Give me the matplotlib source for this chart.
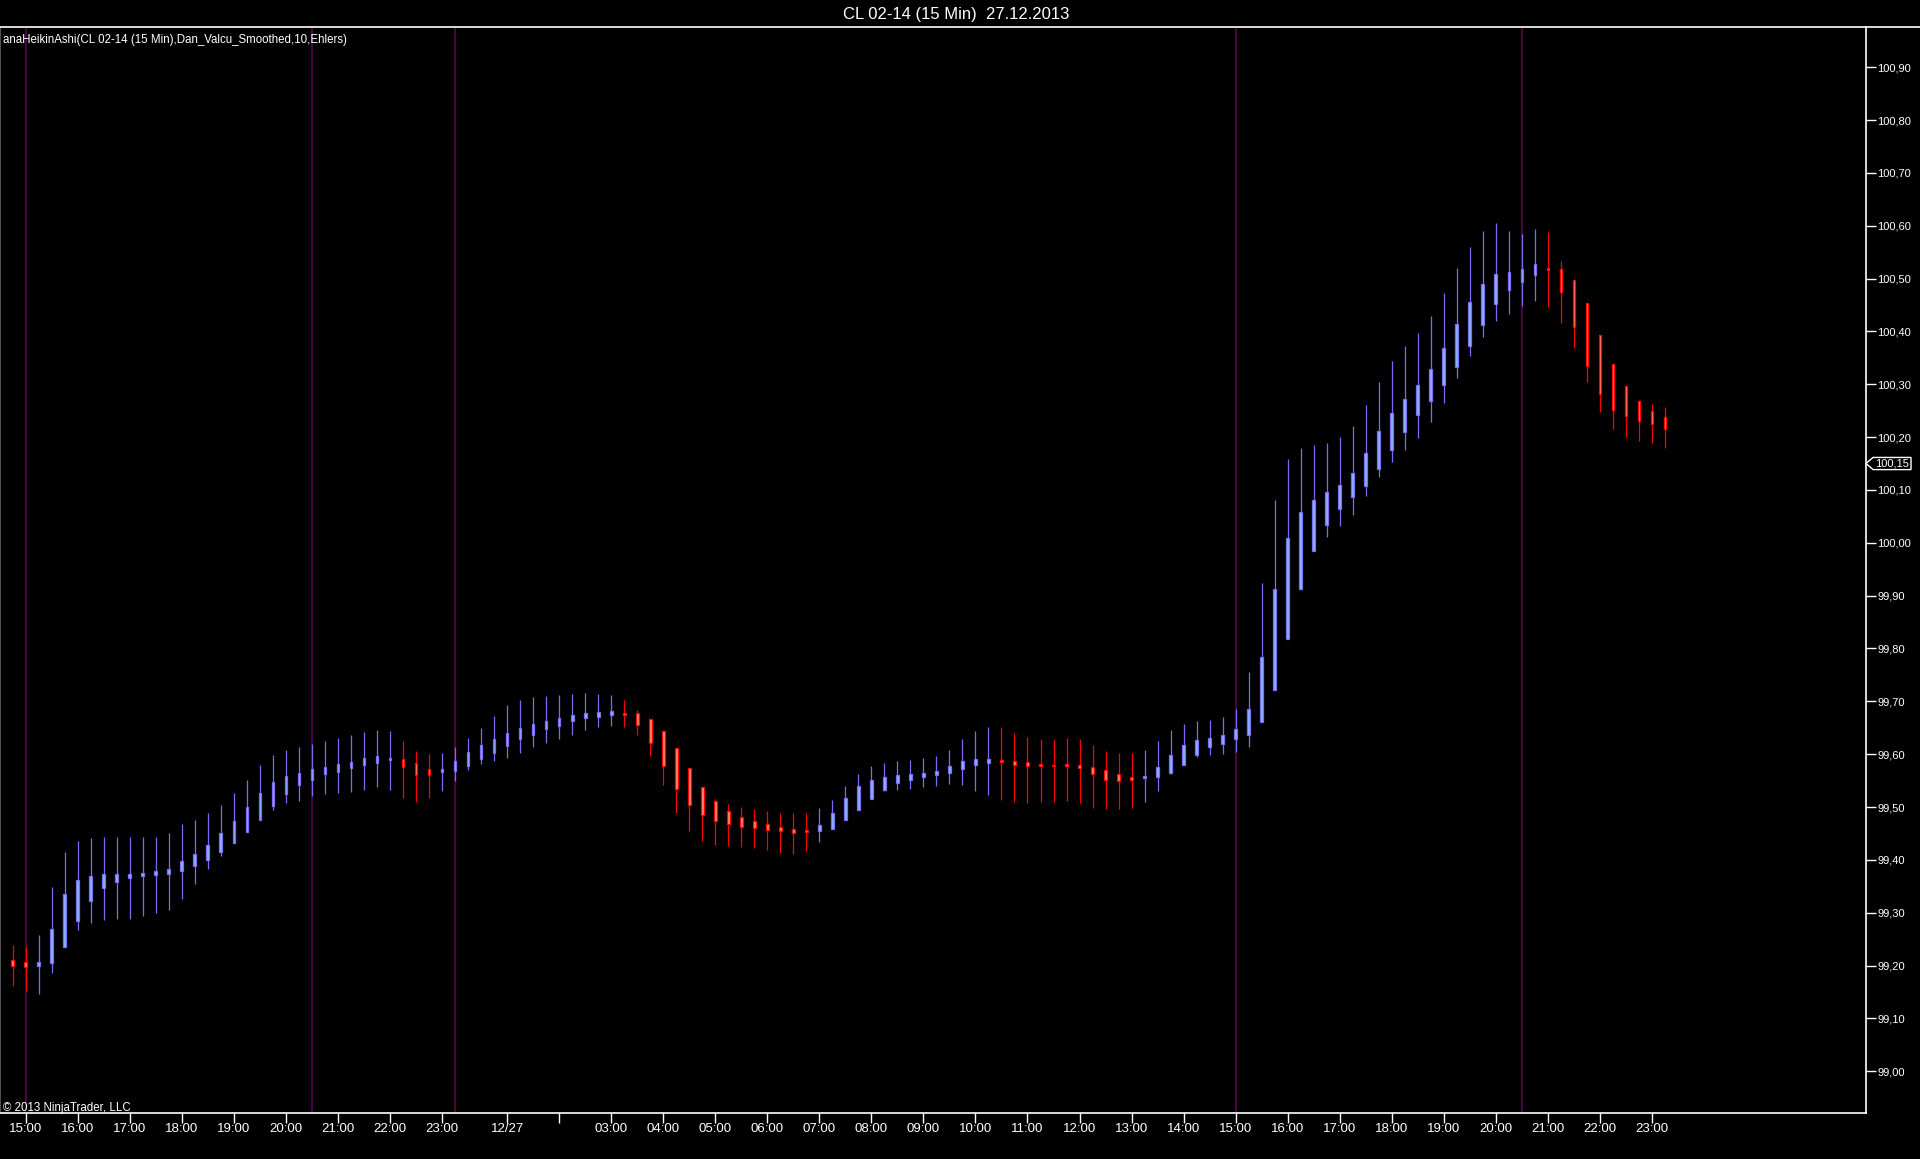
import matplotlib
matplotlib.use("Agg")
import matplotlib.pyplot as plt
import matplotlib.transforms as mtransforms
from matplotlib.patches import Rectangle, Polygon
from matplotlib.lines import Line2D
import pandas as pd
import numpy as np

# ---------------- data ----------------
title = "CL 02-14 (15 Min)  27.12.2013"
indicator_label = "anaHeikinAshi(CL 02-14 (15 Min),Dan_Valcu_Smoothed,10,Ehlers)"
copyright_label = "\u00a9 2013 NinjaTrader, LLC"

session_1 = ("2013-12-26 14:45", "2013-12-26 23:15")
session_2 = ("2013-12-27 00:15", "2013-12-27 23:15")

ha_open = [99.211, 99.207, 99.200, 99.204, 99.236, 99.285, 99.323, 99.346, 99.359, 99.365,
           99.369, 99.372, 99.374, 99.378, 99.388, 99.399, 99.414, 99.431, 99.452, 99.475,
           99.501, 99.524, 99.541, 99.552, 99.562, 99.567, 99.573, 99.579, 99.584, 99.590,
           99.591, 99.584, 99.572, 99.567, 99.569, 99.577, 99.590, 99.603, 99.615, 99.628,
           99.637, 99.647, 99.654, 99.662, 99.668, 99.671, 99.675, 99.678, 99.678, 99.667,
           99.644, 99.612, 99.574, 99.538, 99.512, 99.493, 99.481, 99.474, 99.468, 99.463,
           99.459, 99.455, 99.454, 99.459, 99.475, 99.495, 99.516, 99.533, 99.545, 99.552,
           99.556, 99.560, 99.564, 99.571, 99.579, 99.584, 99.589, 99.587, 99.586, 99.582,
           99.580, 99.580, 99.580, 99.576, 99.570, 99.563, 99.557, 99.554, 99.556, 99.565,
           99.580, 99.599, 99.613, 99.620, 99.628, 99.637, 99.660, 99.722, 99.817, 99.913,
           99.985, 100.033, 100.063, 100.086, 100.108, 100.139, 100.175, 100.210, 100.241, 100.269,
           100.298, 100.332, 100.373, 100.413, 100.451, 100.479, 100.494, 100.506, 100.518, 100.518,
           100.497, 100.453, 100.394, 100.338, 100.296, 100.269, 100.249, 100.238]

ha_close = [99.200, 99.197, 99.207, 99.270, 99.336, 99.362, 99.370, 99.374, 99.374, 99.374,
            99.376, 99.378, 99.383, 99.397, 99.412, 99.429, 99.451, 99.474, 99.500, 99.527,
            99.548, 99.559, 99.565, 99.571, 99.576, 99.582, 99.586, 99.593, 99.597, 99.593,
            99.575, 99.560, 99.561, 99.572, 99.587, 99.604, 99.618, 99.629, 99.640, 99.650,
            99.657, 99.663, 99.669, 99.674, 99.678, 99.680, 99.682, 99.675, 99.656, 99.622,
            99.577, 99.535, 99.503, 99.484, 99.473, 99.467, 99.463, 99.461, 99.457, 99.454,
            99.450, 99.453, 99.466, 99.489, 99.517, 99.540, 99.552, 99.557, 99.561, 99.563,
            99.565, 99.569, 99.578, 99.588, 99.591, 99.591, 99.586, 99.580, 99.577, 99.577,
            99.577, 99.579, 99.573, 99.562, 99.552, 99.550, 99.552, 99.559, 99.576, 99.599,
            99.618, 99.627, 99.631, 99.637, 99.648, 99.685, 99.784, 99.912, 100.009, 100.058,
            100.081, 100.096, 100.110, 100.132, 100.170, 100.212, 100.246, 100.272, 100.299, 100.329,
            100.369, 100.414, 100.456, 100.490, 100.509, 100.513, 100.518, 100.528, 100.517, 100.474,
            100.409, 100.335, 100.281, 100.252, 100.239, 100.231, 100.224, 100.216]

ha_high = [99.238, 99.236, 99.258, 99.349, 99.415, 99.436, 99.442, 99.444, 99.444, 99.444,
           99.444, 99.444, 99.451, 99.467, 99.476, 99.489, 99.504, 99.527, 99.552, 99.580,
           99.599, 99.608, 99.614, 99.620, 99.625, 99.631, 99.637, 99.642, 99.646, 99.644,
           99.625, 99.606, 99.601, 99.603, 99.614, 99.631, 99.650, 99.673, 99.693, 99.703,
           99.709, 99.710, 99.712, 99.714, 99.716, 99.714, 99.712, 99.703, 99.684, 99.667,
           99.644, 99.612, 99.574, 99.538, 99.515, 99.506, 99.500, 99.497, 99.493, 99.489,
           99.489, 99.489, 99.498, 99.514, 99.540, 99.563, 99.578, 99.584, 99.588, 99.589,
           99.593, 99.597, 99.608, 99.629, 99.644, 99.652, 99.652, 99.640, 99.633, 99.629,
           99.629, 99.631, 99.629, 99.618, 99.606, 99.603, 99.603, 99.608, 99.625, 99.646,
           99.657, 99.663, 99.665, 99.671, 99.686, 99.756, 99.924, 100.081, 100.159, 100.180,
           100.185, 100.189, 100.200, 100.221, 100.261, 100.305, 100.344, 100.373, 100.397, 100.429,
           100.473, 100.520, 100.560, 100.590, 100.605, 100.590, 100.585, 100.594, 100.588, 100.533,
           100.497, 100.453, 100.394, 100.338, 100.296, 100.270, 100.263, 100.257]

ha_low = [99.161, 99.151, 99.147, 99.185, 99.236, 99.268, 99.280, 99.287, 99.289, 99.289,
          99.293, 99.299, 99.306, 99.325, 99.354, 99.382, 99.408, 99.431, 99.452, 99.475,
          99.495, 99.507, 99.512, 99.520, 99.524, 99.526, 99.528, 99.533, 99.537, 99.533,
          99.518, 99.509, 99.518, 99.531, 99.550, 99.570, 99.582, 99.587, 99.593, 99.602,
          99.614, 99.622, 99.629, 99.637, 99.646, 99.652, 99.654, 99.652, 99.637, 99.597,
          99.542, 99.489, 99.455, 99.436, 99.428, 99.427, 99.425, 99.423, 99.419, 99.413,
          99.411, 99.417, 99.434, 99.459, 99.475, 99.495, 99.516, 99.531, 99.533, 99.535,
          99.537, 99.539, 99.543, 99.541, 99.531, 99.522, 99.514, 99.509, 99.507, 99.510,
          99.510, 99.512, 99.507, 99.499, 99.497, 99.497, 99.499, 99.509, 99.531, 99.562,
          99.580, 99.594, 99.598, 99.601, 99.605, 99.614, 99.660, 99.722, 99.817, 99.913,
          99.985, 100.010, 100.031, 100.052, 100.088, 100.125, 100.152, 100.175, 100.199, 100.228,
          100.264, 100.311, 100.354, 100.390, 100.419, 100.432, 100.449, 100.458, 100.447, 100.415,
          100.368, 100.305, 100.248, 100.216, 100.201, 100.193, 100.188, 100.180]

session_marker_times = ["2013-12-26 15:00", "2013-12-26 20:30", "2013-12-26 23:15",
                        "2013-12-27 15:00", "2013-12-27 20:30"]
date_label_time = "2013-12-27 01:00"
date_label_text = "12/27"
hidden_label_time = "2013-12-27 02:00"
last_price = 100.15
price_ticks = [99.00, 99.10, 99.20, 99.30, 99.40, 99.50, 99.60, 99.70, 99.80, 99.90,
               100.00, 100.10, 100.20, 100.30, 100.40, 100.50, 100.60, 100.70, 100.80, 100.90]

# ---------------- figure ----------------
W, H = 1920, 1159
fig = plt.figure(figsize=(W / 100, H / 100), dpi=100, facecolor="black")
narrow = ["Liberation Sans Narrow", "Liberation Sans", "DejaVu Sans"]
regular = ["Liberation Sans", "DejaVu Sans"]

ax_left, ax_right, ax_top, ax_bottom = 0, 1866, 27, 1113
ax = fig.add_axes([ax_left / W, 1 - ax_bottom / H, (ax_right - ax_left) / W, (ax_bottom - ax_top) / H])
ax.set_facecolor("black")

times = pd.date_range(*session_1, freq="15min").append(pd.date_range(*session_2, freq="15min"))
xs = np.arange(len(times))

up_edge, up_face = "#7b6cf6", "#8cb4ff"
dn_edge, dn_face = "#ff0000", "#ff8c6e"
body_w = 0.21
min_body = 0.0035

for x, o, c, h, l in zip(xs, ha_open, ha_close, ha_high, ha_low):
    up = c >= o
    edge = up_edge if up else dn_edge
    face = up_face if up else dn_face
    ax.vlines(x, l, h, color=edge, lw=0.9, zorder=3)
    lo, hi = min(o, c), max(o, c)
    if hi - lo < min_body:
        mid = (hi + lo) / 2
        lo, hi = mid - min_body / 2, mid + min_body / 2
    ax.add_patch(Rectangle((x - body_w / 2, lo), body_w, hi - lo,
                           facecolor=face, edgecolor=edge, lw=0.9, zorder=4))

for t in session_marker_times:
    ax.axvline(times.get_loc(pd.Timestamp(t)), color="#46053f", lw=1.6, zorder=1)

ax.set_xlim(-0.976, 142.45)
ax.set_ylim(98.921, 100.976)

# x ticks: every full hour
tick_pos, tick_lab = [], []
for i, t in enumerate(times):
    if t.minute == 0:
        tick_pos.append(i)
        if t == pd.Timestamp(date_label_time):
            tick_lab.append(date_label_text)
        elif t == pd.Timestamp(hidden_label_time):
            tick_lab.append("")
        else:
            tick_lab.append(t.strftime("%H:%M"))
ax.set_xticks(tick_pos)
ax.set_xticklabels(tick_lab, fontfamily=narrow, fontsize=9.5, color="white")
ax.tick_params(axis="x", direction="out", length=7, width=1, color="white", pad=0)

ax.yaxis.tick_right()
ax.set_yticks(price_ticks)
ax.set_yticklabels([f"{p:.2f}".replace(".", ",") for p in price_ticks],
                   fontfamily=regular, fontsize=8, color="white")
ax.tick_params(axis="y", direction="out", length=7, width=1, color="white", pad=1)

ax.spines["top"].set_visible(False)
ax.spines["right"].set_color("white")
ax.spines["bottom"].set_color("white")
ax.spines["left"].set_color("#606060")
for s in ["right", "bottom", "left"]:
    ax.spines[s].set_linewidth(1.2)

fig.add_artist(Line2D([0, 1], [1 - ax_top / H] * 2, transform=fig.transFigure, color="white", lw=1.2))

fig.text(956 / W, 1 - 14.5 / H, title, ha="center", va="center", color="white",
         fontsize=12, fontfamily=narrow)
fig.text(3 / W, 1 - 40 / H, indicator_label, ha="left", va="center", color="white",
         fontsize=8.3, fontfamily=narrow)
fig.text(3 / W, 1 - 1108 / H, copyright_label, ha="left", va="center", color="white",
         fontsize=8.3, fontfamily=narrow)

# last price marker
tr = mtransforms.blended_transform_factory(fig.transFigure, ax.transData)
hh = 0.0115
poly = Polygon([(1866 / W, last_price), (1873 / W, last_price + hh), (1911 / W, last_price + hh),
                (1911 / W, last_price - hh), (1873 / W, last_price - hh)], closed=True,
               transform=tr, facecolor="black", edgecolor="white", lw=1, clip_on=False, zorder=10)
fig.add_artist(poly)
fig.text(1892 / W, last_price, f"{last_price:.2f}".replace(".", ","), transform=tr,
         ha="center", va="center", color="white", fontsize=8, fontfamily=regular, zorder=11)

fig.savefig("out.png", dpi=100, facecolor="black")
